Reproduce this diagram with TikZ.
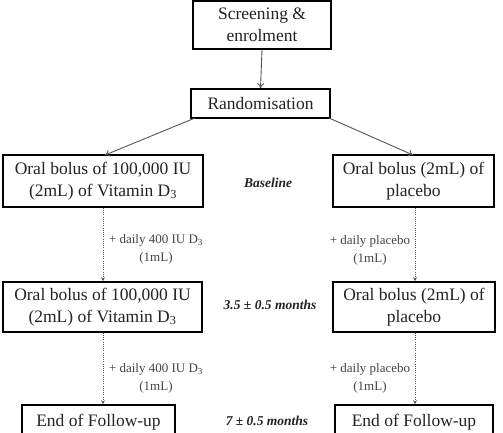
\documentclass[tikz,border=0pt]{standalone}
\usepackage{fontspec}
\setmainfont{Liberation Serif}
\usetikzlibrary{arrows.meta}
\definecolor{txt}{HTML}{222222}
\definecolor{arr}{HTML}{555555}
\tikzset{
  box/.style={draw=black, line width=1.6pt, rectangle, inner sep=0pt, align=center, font=\fontsize{17.5}{21.5}\selectfont, text=txt},
  solidarrow/.style={draw=arr, line width=0.9pt, -{To[length=5pt,width=7pt]}},
  dotarrow/.style={draw=arr, line width=0.9pt, dash pattern=on 1pt off 1.2pt, -{Stealth[length=4pt,width=4pt]}},
  dose/.style={align=center, font=\fontsize{13}{18}\selectfont, text=txt!85},
  timept/.style={font=\fontsize{13.5}{15}\selectfont\bfseries\itshape, text=txt}
}
\begin{document}
\begin{tikzpicture}[x=1pt,y=-1pt]
\clip (0,0) rectangle (503,432);
\useasboundingbox (0,0) rectangle (503,432);
\node[box, minimum width=138pt, minimum height=48pt] (screen) at (262,25) {Screening \&\\enrolment};
\node[box, minimum width=139pt, minimum height=29pt] (rand) at (260.5,103.5) {Randomisation};
\node[box, minimum width=200pt, minimum height=52pt] (l1) at (103,181) {Oral bolus of 100,000 IU\\(2mL) of Vitamin D\textsubscript{3}};
\node[box, minimum width=161pt, minimum height=52pt] (r1) at (413.5,181) {Oral bolus (2mL) of\\placebo};
\node[box, minimum width=199pt, minimum height=50pt] (l2) at (102.5,307) {Oral bolus of 100,000 IU\\(2mL) of Vitamin D\textsubscript{3}};
\node[box, minimum width=162pt, minimum height=50pt] (r2) at (414,307) {Oral bolus (2mL) of\\placebo};
\node[box, minimum width=153pt, minimum height=34pt] (l3) at (98.5,422) {End of Follow-up};
\node[box, minimum width=158pt, minimum height=34pt] (r3) at (414,422) {End of Follow-up};
\node[timept] (t1) at (268,183) {Baseline};
\node[timept] (t2) at (270,305) {3.5 ± 0.5 months};
\node[timept] (t3) at (267,421) {7 ± 0.5 months};
\coordinate (rl) at (195,118);
\coordinate (rr) at (329,118);
\coordinate (l1in) at (105,155);
\coordinate (r1in) at (413,155);
\draw[solidarrow] (screen.south) -- (rand.north);
\draw[solidarrow] (rl) -- (l1in);
\draw[solidarrow] (rr) -- (r1in);
\draw[dotarrow] (l1.south -| 103,0) -- (l2.north -| 103,0);
\draw[dotarrow] (r1.south -| 415,0) -- (r2.north -| 415,0);
\draw[dotarrow] (l2.south -| 103,0) -- (l3.north -| 103,0);
\draw[dotarrow] (r2.south -| 415,0) -- (r3.north -| 415,0);
\node[dose] (d1) at (156,249) {+ daily 400 IU D\textsubscript{3}\\(1mL)};
\node[dose] (d2) at (370,250) {+ daily placebo\\(1mL)};
\node[dose] (d3) at (156,378) {+ daily 400 IU D\textsubscript{3}\\(1mL)};
\node[dose] (d4) at (370,378) {+ daily placebo\\(1mL)};
\end{tikzpicture}
\end{document}
